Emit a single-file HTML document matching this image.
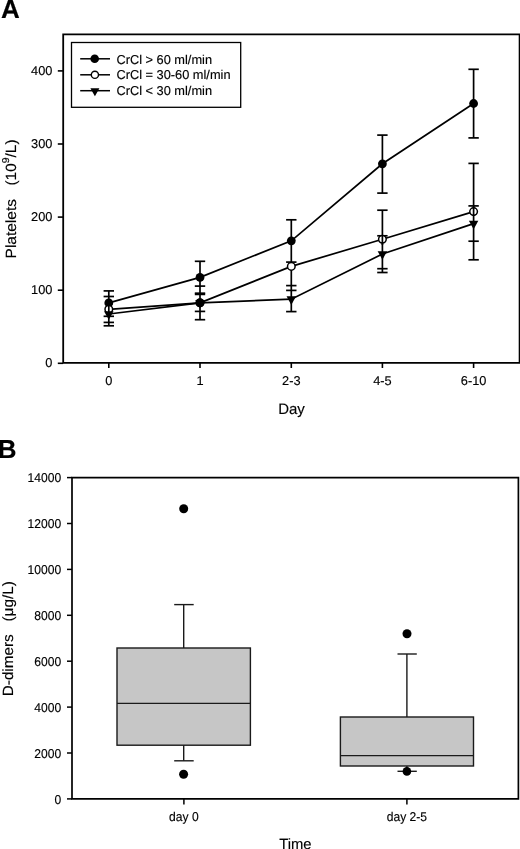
<!DOCTYPE html>
<html><head><meta charset="utf-8"><style>
html,body{margin:0;padding:0;background:#fff;}
body{width:520px;height:849px;overflow:hidden;}
svg{display:block;will-change:transform;}
text{font-family:"Liberation Sans", sans-serif;fill:#000;text-rendering:geometricPrecision;stroke:#000;stroke-width:0.15px;}
.ta{font-size:12.8px;}
.tb{font-size:12.8px;}
.tt{font-size:14.8px;}
.pl{font-size:26px;font-weight:bold;}
</style></head><body>
<svg width="520" height="849" viewBox="0 0 520 849">
<path d="M63.2 34.4H519.6V362.9H63.2Z" fill="none" stroke="#000" stroke-width="1.8"/>
<line x1="57.8" y1="363.30" x2="63.2" y2="363.30" stroke="#000" stroke-width="1.6"/>
<text x="52.4" y="367.20" text-anchor="end" class="ta">0</text>
<line x1="57.8" y1="290.20" x2="63.2" y2="290.20" stroke="#000" stroke-width="1.6"/>
<text x="52.4" y="294.10" text-anchor="end" class="ta">100</text>
<line x1="57.8" y1="217.10" x2="63.2" y2="217.10" stroke="#000" stroke-width="1.6"/>
<text x="52.4" y="221.00" text-anchor="end" class="ta">200</text>
<line x1="57.8" y1="144.00" x2="63.2" y2="144.00" stroke="#000" stroke-width="1.6"/>
<text x="52.4" y="147.90" text-anchor="end" class="ta">300</text>
<line x1="57.8" y1="70.90" x2="63.2" y2="70.90" stroke="#000" stroke-width="1.6"/>
<text x="52.4" y="74.80" text-anchor="end" class="ta">400</text>
<line x1="108.8" y1="362.9" x2="108.8" y2="368" stroke="#000" stroke-width="1.6"/>
<text x="108.8" y="385.4" text-anchor="middle" class="ta">0</text>
<line x1="200.0" y1="362.9" x2="200.0" y2="368" stroke="#000" stroke-width="1.6"/>
<text x="200.0" y="385.4" text-anchor="middle" class="ta">1</text>
<line x1="291.3" y1="362.9" x2="291.3" y2="368" stroke="#000" stroke-width="1.6"/>
<text x="291.3" y="385.4" text-anchor="middle" class="ta">2-3</text>
<line x1="382.4" y1="362.9" x2="382.4" y2="368" stroke="#000" stroke-width="1.6"/>
<text x="382.4" y="385.4" text-anchor="middle" class="ta">4-5</text>
<line x1="473.6" y1="362.9" x2="473.6" y2="368" stroke="#000" stroke-width="1.6"/>
<text x="473.6" y="385.4" text-anchor="middle" class="ta">6-10</text>
<text x="291.5" y="413.7" text-anchor="middle" class="tt" style="font-size:15px">Day</text>
<text transform="translate(15.9 258.4) rotate(-90) scale(1.045 1)" class="tt" x="0" y="0">Platelets</text>
<text transform="translate(15.9 185.6) rotate(-90) scale(1.045 1)" class="tt" x="0" y="0">(10<tspan font-size="10" dy="-7.2">9</tspan><tspan dy="7.2">/L)</tspan></text>
<text x="0.95" y="17.8" class="pl">A</text>
<polyline points="108.80,302.90 200.00,277.40 291.30,240.80 382.40,163.80 473.60,103.50" fill="none" stroke="#000" stroke-width="1.7"/>
<polyline points="108.80,309.30 200.00,302.80 291.30,266.40 382.40,239.20 473.60,211.60" fill="none" stroke="#000" stroke-width="1.7"/>
<polyline points="108.80,314.00 200.00,302.80 291.30,299.20 382.40,254.00 473.60,223.60" fill="none" stroke="#000" stroke-width="1.7"/>
<line x1="108.8" y1="290.9" x2="108.8" y2="325.8" stroke="#000" stroke-width="1.7"/>
<line x1="103.60" y1="290.9" x2="114.00" y2="290.9" stroke="#000" stroke-width="1.7"/>
<line x1="103.60" y1="296.5" x2="114.00" y2="296.5" stroke="#000" stroke-width="1.7"/>
<line x1="103.60" y1="316.3" x2="114.00" y2="316.3" stroke="#000" stroke-width="1.7"/>
<line x1="103.60" y1="322.4" x2="114.00" y2="322.4" stroke="#000" stroke-width="1.7"/>
<line x1="103.60" y1="325.8" x2="114.00" y2="325.8" stroke="#000" stroke-width="1.7"/>
<line x1="200.0" y1="261.3" x2="200.0" y2="319.7" stroke="#000" stroke-width="1.7"/>
<line x1="194.80" y1="261.3" x2="205.20" y2="261.3" stroke="#000" stroke-width="1.7"/>
<line x1="194.80" y1="286.1" x2="205.20" y2="286.1" stroke="#000" stroke-width="1.7"/>
<line x1="194.80" y1="293.2" x2="205.20" y2="293.2" stroke="#000" stroke-width="1.7"/>
<line x1="194.80" y1="294.4" x2="205.20" y2="294.4" stroke="#000" stroke-width="1.7"/>
<line x1="194.80" y1="311.4" x2="205.20" y2="311.4" stroke="#000" stroke-width="1.7"/>
<line x1="194.80" y1="319.7" x2="205.20" y2="319.7" stroke="#000" stroke-width="1.7"/>
<line x1="291.3" y1="219.8" x2="291.3" y2="311.6" stroke="#000" stroke-width="1.7"/>
<line x1="286.10" y1="219.8" x2="296.50" y2="219.8" stroke="#000" stroke-width="1.7"/>
<line x1="286.10" y1="262.1" x2="296.50" y2="262.1" stroke="#000" stroke-width="1.7"/>
<line x1="286.10" y1="285.6" x2="296.50" y2="285.6" stroke="#000" stroke-width="1.7"/>
<line x1="286.10" y1="290.4" x2="296.50" y2="290.4" stroke="#000" stroke-width="1.7"/>
<line x1="286.10" y1="311.6" x2="296.50" y2="311.6" stroke="#000" stroke-width="1.7"/>
<line x1="382.4" y1="135.1" x2="382.4" y2="193.1" stroke="#000" stroke-width="1.7"/>
<line x1="382.4" y1="210.2" x2="382.4" y2="272.5" stroke="#000" stroke-width="1.7"/>
<line x1="377.20" y1="135.1" x2="387.60" y2="135.1" stroke="#000" stroke-width="1.7"/>
<line x1="377.20" y1="193.1" x2="387.60" y2="193.1" stroke="#000" stroke-width="1.7"/>
<line x1="377.20" y1="210.2" x2="387.60" y2="210.2" stroke="#000" stroke-width="1.7"/>
<line x1="377.20" y1="235.8" x2="387.60" y2="235.8" stroke="#000" stroke-width="1.7"/>
<line x1="377.20" y1="268.7" x2="387.60" y2="268.7" stroke="#000" stroke-width="1.7"/>
<line x1="377.20" y1="272.5" x2="387.60" y2="272.5" stroke="#000" stroke-width="1.7"/>
<line x1="473.6" y1="69.3" x2="473.6" y2="137.9" stroke="#000" stroke-width="1.7"/>
<line x1="473.6" y1="163.4" x2="473.6" y2="259.8" stroke="#000" stroke-width="1.7"/>
<line x1="468.40" y1="69.3" x2="478.80" y2="69.3" stroke="#000" stroke-width="1.7"/>
<line x1="468.40" y1="137.9" x2="478.80" y2="137.9" stroke="#000" stroke-width="1.7"/>
<line x1="468.40" y1="163.4" x2="478.80" y2="163.4" stroke="#000" stroke-width="1.7"/>
<line x1="468.40" y1="205.9" x2="478.80" y2="205.9" stroke="#000" stroke-width="1.7"/>
<line x1="468.40" y1="241.2" x2="478.80" y2="241.2" stroke="#000" stroke-width="1.7"/>
<line x1="468.40" y1="259.8" x2="478.80" y2="259.8" stroke="#000" stroke-width="1.7"/>
<circle cx="108.8" cy="302.9" r="4.4" fill="#000"/>
<circle cx="200.0" cy="277.4" r="4.4" fill="#000"/>
<circle cx="291.3" cy="240.8" r="4.4" fill="#000"/>
<circle cx="382.4" cy="163.8" r="4.4" fill="#000"/>
<circle cx="473.6" cy="103.5" r="4.4" fill="#000"/>
<circle cx="108.8" cy="309.3" r="3.8" fill="#fff" stroke="#000" stroke-width="1.5"/>
<circle cx="200.0" cy="302.8" r="3.8" fill="#fff" stroke="#000" stroke-width="1.5"/>
<circle cx="291.3" cy="266.4" r="3.8" fill="#fff" stroke="#000" stroke-width="1.5"/>
<circle cx="382.4" cy="239.2" r="3.8" fill="#fff" stroke="#000" stroke-width="1.5"/>
<circle cx="473.6" cy="211.6" r="3.8" fill="#fff" stroke="#000" stroke-width="1.5"/>
<path d="M104.05 311.13H113.55L108.80 319.73Z" fill="#000"/>
<path d="M195.25 299.93H204.75L200.00 308.53Z" fill="#000"/>
<path d="M286.55 296.33H296.05L291.30 304.93Z" fill="#000"/>
<path d="M377.65 251.13H387.15L382.40 259.73Z" fill="#000"/>
<path d="M468.85 220.73H478.35L473.60 229.33Z" fill="#000"/>
<circle cx="200.0" cy="302.8" r="4.4" fill="#000"/>
<line x1="382.4" y1="235.8" x2="382.4" y2="245" stroke="#000" stroke-width="1.7"/>
<line x1="108.8" y1="305" x2="108.8" y2="313" stroke="#000" stroke-width="1.7"/>
<line x1="473.6" y1="205.9" x2="473.6" y2="216" stroke="#000" stroke-width="1.7"/>
<rect x="71.5" y="42.5" width="169.2" height="64.8" fill="#fff" stroke="#000" stroke-width="1.3"/>
<line x1="80.2" y1="58.8" x2="110" y2="58.8" stroke="#000" stroke-width="1.5"/>
<line x1="80.2" y1="74.8" x2="110" y2="74.8" stroke="#000" stroke-width="1.5"/>
<line x1="80.2" y1="90.7" x2="110" y2="90.7" stroke="#000" stroke-width="1.5"/>
<circle cx="94.7" cy="58.8" r="4.3" fill="#000"/>
<circle cx="94.9" cy="74.8" r="3.6" fill="#fff" stroke="#000" stroke-width="1.4"/>
<path d="M90.40 88.23H99.40L94.90 96.23Z" fill="#000"/>
<text x="116.4" y="63.5" class="ta">CrCl &gt; 60 ml/min</text>
<text x="116.4" y="79.4" class="ta">CrCl = 30-60 ml/min</text>
<text x="116.4" y="95.4" class="ta">CrCl &lt; 30 ml/min</text>
<path d="M72.0 477.6H518.4V798.9H72.0Z" fill="none" stroke="#000" stroke-width="1.7"/>
<line x1="67.0" y1="798.90" x2="72.0" y2="798.90" stroke="#000" stroke-width="1.5"/>
<text transform="translate(61.2 803.70) scale(0.945 1)" text-anchor="end" class="tb">0</text>
<line x1="67.0" y1="753.00" x2="72.0" y2="753.00" stroke="#000" stroke-width="1.5"/>
<text transform="translate(61.2 757.80) scale(0.945 1)" text-anchor="end" class="tb">2000</text>
<line x1="67.0" y1="707.10" x2="72.0" y2="707.10" stroke="#000" stroke-width="1.5"/>
<text transform="translate(61.2 711.90) scale(0.945 1)" text-anchor="end" class="tb">4000</text>
<line x1="67.0" y1="661.20" x2="72.0" y2="661.20" stroke="#000" stroke-width="1.5"/>
<text transform="translate(61.2 666.00) scale(0.945 1)" text-anchor="end" class="tb">6000</text>
<line x1="67.0" y1="615.30" x2="72.0" y2="615.30" stroke="#000" stroke-width="1.5"/>
<text transform="translate(61.2 620.10) scale(0.945 1)" text-anchor="end" class="tb">8000</text>
<line x1="67.0" y1="569.40" x2="72.0" y2="569.40" stroke="#000" stroke-width="1.5"/>
<text transform="translate(61.2 574.20) scale(0.945 1)" text-anchor="end" class="tb">10000</text>
<line x1="67.0" y1="523.50" x2="72.0" y2="523.50" stroke="#000" stroke-width="1.5"/>
<text transform="translate(61.2 528.30) scale(0.945 1)" text-anchor="end" class="tb">12000</text>
<line x1="67.0" y1="477.60" x2="72.0" y2="477.60" stroke="#000" stroke-width="1.5"/>
<text transform="translate(61.2 482.40) scale(0.945 1)" text-anchor="end" class="tb">14000</text>
<line x1="183.9" y1="798.9" x2="183.9" y2="804.4" stroke="#000" stroke-width="1.5"/>
<text transform="translate(183.9 821.4) scale(0.945 1)" text-anchor="middle" class="tb">day 0</text>
<line x1="406.9" y1="798.9" x2="406.9" y2="804.4" stroke="#000" stroke-width="1.5"/>
<text transform="translate(406.9 821.4) scale(0.945 1)" text-anchor="middle" class="tb">day 2-5</text>
<text x="295.4" y="848.6" text-anchor="middle" class="tt">Time</text>
<text transform="translate(12.6 696.2) rotate(-90) scale(1.03 1)" class="tt" x="0" y="0">D-dimers</text>
<text transform="translate(12.6 621.6) rotate(-90) scale(1.04 1)" class="tt" x="0" y="0">(μg/L)</text>
<text x="-2.3" y="458.3" class="pl">B</text>
<rect x="117.0" y="648.0" width="133.4" height="97.2" fill="#c6c6c6" stroke="#1a1a1a" stroke-width="1.4"/>
<line x1="117.0" y1="703.4" x2="250.4" y2="703.4" stroke="#1a1a1a" stroke-width="1.4"/>
<line x1="183.7" y1="604.6" x2="183.7" y2="648.0" stroke="#1a1a1a" stroke-width="1.4"/>
<line x1="174.2" y1="604.6" x2="193.7" y2="604.6" stroke="#1a1a1a" stroke-width="1.4"/>
<line x1="183.7" y1="745.2" x2="183.7" y2="760.8" stroke="#1a1a1a" stroke-width="1.4"/>
<line x1="174.2" y1="760.8" x2="193.7" y2="760.8" stroke="#1a1a1a" stroke-width="1.4"/>
<circle cx="183.7" cy="508.7" r="4.5" fill="#000"/>
<circle cx="183.6" cy="774.3" r="4.5" fill="#000"/>
<rect x="340.4" y="717.0" width="133.1" height="49.0" fill="#c6c6c6" stroke="#1a1a1a" stroke-width="1.4"/>
<line x1="340.4" y1="755.6" x2="473.5" y2="755.6" stroke="#1a1a1a" stroke-width="1.4"/>
<line x1="406.9" y1="654" x2="406.9" y2="717.0" stroke="#1a1a1a" stroke-width="1.4"/>
<line x1="397.5" y1="654" x2="416.8" y2="654" stroke="#1a1a1a" stroke-width="1.4"/>
<line x1="406.9" y1="766.0" x2="406.9" y2="771.3" stroke="#1a1a1a" stroke-width="1.4"/>
<line x1="397.5" y1="771.3" x2="416.8" y2="771.3" stroke="#1a1a1a" stroke-width="1.4"/>
<circle cx="407" cy="633.8" r="4.5" fill="#000"/>
<circle cx="406.9" cy="771.4" r="4.3" fill="#000"/>
</svg>
</body></html>
